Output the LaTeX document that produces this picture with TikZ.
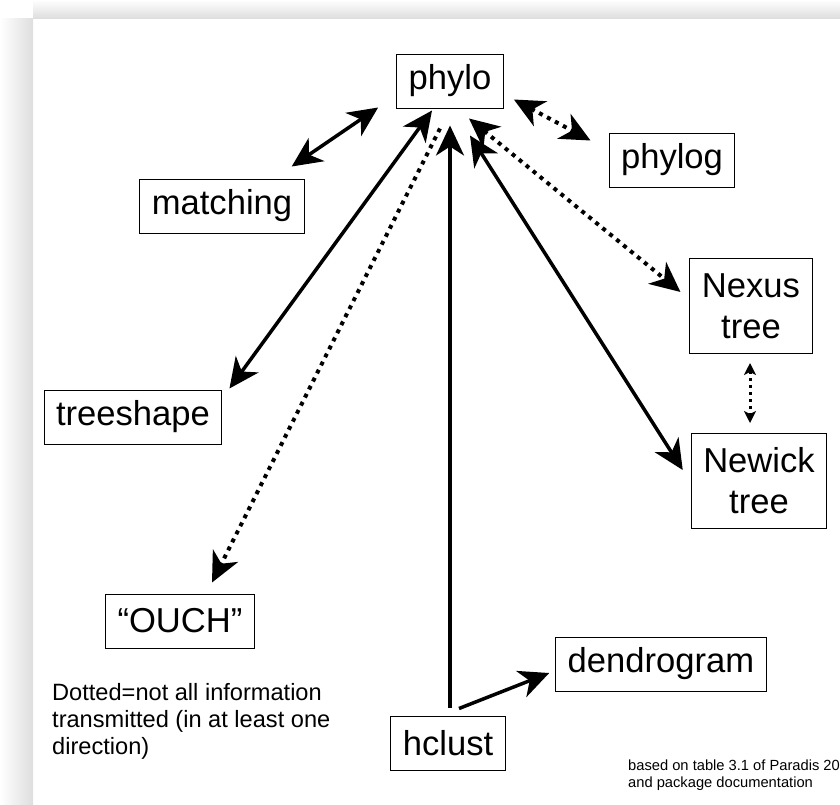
\documentclass[tikz,border=0pt]{standalone}
\usepackage{fontspec}
\setmainfont{Liberation Sans}
\usetikzlibrary{arrows.meta,calc,positioning}

\begin{document}
\begin{tikzpicture}[x=1pt, y=-1pt,
    >={Stealth[length=30pt, width=28pt, inset=9pt]},
    pkg/.style={draw, line width=1pt, font=\fontsize{34.6}{41}\selectfont,
        inner xsep=12pt, minimum height=54pt, align=center},
    twoline/.style={pkg, minimum height=95pt},
    conv/.style={line width=3.5pt},
    lossy/.style={line width=4pt, dash pattern=on 4pt off 5pt},
    smalltips/.style={{Stealth[length=12pt, width=12pt, inset=3pt]}-{Stealth[length=12pt, width=12pt, inset=3pt]}}]
    \useasboundingbox (0,0) rectangle (840,804);
    % slide shadow
    \shade[left color=white, right color=black!13] (0,18) rectangle (33,804);
    \shade[top color=white, bottom color=black!13] (33,0) rectangle (840,18);

    \node[pkg] (phylo) at (450,81) {phylo};
    \node[pkg] (matching) at (222,206) {matching};
    \node[pkg] (phylog) at (672,160) {phylog};
    \node[twoline] (nexus) at (751,306) {Nexus\\tree};
    \node[twoline] (newick) at (759,481) {Newick\\tree};
    \node[pkg] (treeshape) at (133,417) {treeshape};
    \node[pkg] (ouch) at (180,621) {“OUCH”};
    \node[pkg] (dendrogram) at (661,664) {dendrogram};
    \node[pkg] (hclust) at (448,743) {hclust};

    \node[anchor=north west, inner sep=0pt, align=left, font=\fontsize{23.6}{27}\selectfont]
        (legend) at (52,683) {Dotted=not all information\\transmitted (in at least one\\direction)};
    \node[anchor=north west, inner sep=0pt, align=left, font=\fontsize{14.7}{17}\selectfont]
        (source) at (628,760) {based on table 3.1 of Paradis 20\\and package documentation};

    \draw[conv, <->] ([shift={(-13,-12)}]matching.north east) -- ([shift={(-18,-1)}]phylo.south west);
    \draw[conv, <->] ([shift={(7,-1)}]treeshape.north east) -- ([shift={(-18,2)}]phylo.south);
    \draw[lossy, ->] ([shift={(-10,20)}]phylo.south) -- ([shift={(32,-11)}]ouch.north);
    \draw[conv, ->] ([shift={(2,-8)}]hclust.north) -- ([shift={(0,17)}]phylo.south);
    \draw[conv, <->] ([shift={(20,27)}]phylo.south) -- ([shift={(-8,-11)}]newick.west);
    \draw[lossy, <->] ([shift={(19,10)}]phylo.south) -- ([shift={(-9,-14)}]nexus.west);
    \draw[lossy, <->] ([shift={(10,-9)}]phylo.south east) -- ([shift={(-18,8)}]phylog.north west);
    \draw[lossy, line width=3pt, dash pattern=on 3pt off 4pt, smalltips]
        ([shift={(-1,9)}]nexus.south) -- ([shift={(-9,-10)}]newick.north);
    \draw[conv, ->] ([shift={(11,-7)}]hclust.north) -- ([shift={(-6,9)}]dendrogram.west);
\end{tikzpicture}
\end{document}
